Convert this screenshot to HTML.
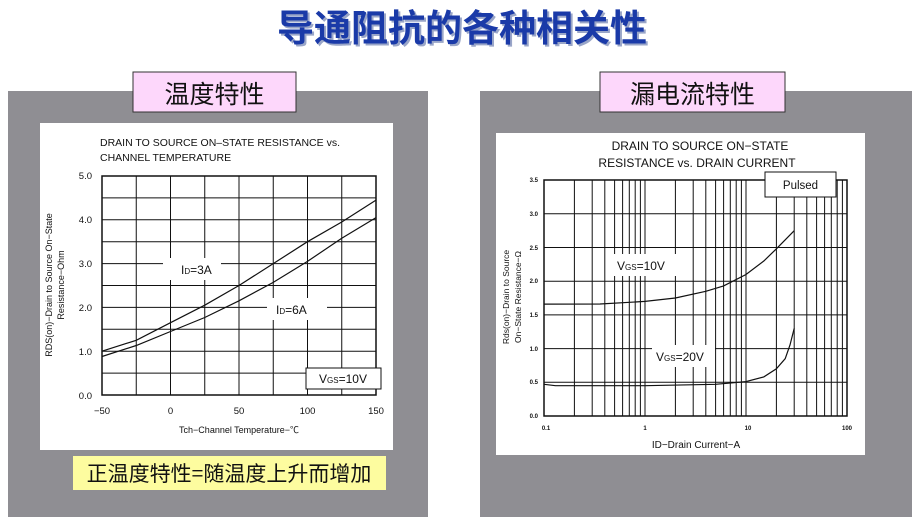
<!DOCTYPE html>
<html><head><meta charset="utf-8"><style>
html,body{margin:0;padding:0;background:#fff;}
svg{display:block}
text{font-family:"Liberation Sans","Noto Sans CJK SC",sans-serif;}
.cjk{font-family:"Noto Sans CJK SC","WenQuanYi Zen Hei",sans-serif;}
</style></head><body>
<svg width="924" height="529" viewBox="0 0 924 529" xmlns="http://www.w3.org/2000/svg">
<rect width="924" height="529" fill="#fff"/>
<text x="464" y="43" text-anchor="middle" class="cjk" font-size="37" font-weight="bold" fill="#9aa6c8">导通阻抗的各种相关性</text>
<text x="462" y="41" text-anchor="middle" class="cjk" font-size="37" font-weight="bold" fill="#1a3aa8">导通阻抗的各种相关性</text>
<rect x="8" y="91" width="420" height="426" fill="#8f8e93"/>
<rect x="480" y="91" width="432" height="426" fill="#8f8e93"/>
<rect x="133" y="72" width="163" height="40" fill="#fdd7fb" stroke="#333" stroke-width="1"/>
<text x="214.5" y="103" text-anchor="middle" class="cjk" font-size="25" fill="#111">温度特性</text>
<rect x="600" y="72" width="185" height="40" fill="#fdd7fb" stroke="#333" stroke-width="1"/>
<text x="692.5" y="103" text-anchor="middle" class="cjk" font-size="25" fill="#111">漏电流特性</text>
<rect x="40" y="123" width="353" height="327" fill="#fff"/>
<rect x="496" y="133" width="369" height="322" fill="#fff"/>
<rect x="73" y="456" width="313" height="34" fill="#fdfc9f"/>
<text x="229" y="481" text-anchor="middle" class="cjk" font-size="21" fill="#111">正温度特性=随温度上升而增加</text>

<text x="100" y="146" font-size="10.5" fill="#111">DRAIN TO SOURCE ON–STATE RESISTANCE vs.</text>
<text x="100" y="161" font-size="10.5" fill="#111">CHANNEL TEMPERATURE</text>
<g stroke="#111" stroke-width="1" fill="none">
<path d="M136.25 176V395M170.5 176V395M204.75 176V395M239 176V395M273.25 176V395M307.5 176V395M341.75 176V395M102 373.1H376M102 351.2H376M102 329.3H376M102 307.4H376M102 285.5H376M102 263.6H376M102 241.7H376M102 219.8H376M102 197.9H376"/>
<rect x="102" y="176" width="274" height="219" stroke-width="1.5"/>
</g>
<rect x="163" y="258" width="58" height="22" fill="#fff"/>
<rect x="267" y="298" width="60" height="22" fill="#fff"/>
<g stroke="#111" stroke-width="1.2" fill="none">
<polyline points="102,351.2 136.25,340.3 170.5,322.7 204.75,305.2 239,285.5 273.25,263.6 307.5,241.7 341.75,222 376,200.1"/>
<polyline points="102,356.5 136.25,345.5 170.5,331.5 204.75,317.5 239,300.8 273.25,282.4 307.5,261.4 341.75,238.2 376,217.6"/>
</g>
<text x="181" y="274" font-size="12" fill="#111">I<tspan font-size="8">D</tspan>=3A</text>
<text x="276" y="314" font-size="12" fill="#111">I<tspan font-size="8">D</tspan>=6A</text>
<rect x="306" y="368" width="75" height="21" fill="#fff" stroke="#111" stroke-width="1"/>
<text x="343" y="383" text-anchor="middle" font-size="12" fill="#111">V<tspan font-size="8">GS</tspan>=10V</text>
<g font-size="9.5" fill="#111" text-anchor="end">
<text x="92" y="179">5.0</text><text x="92" y="223">4.0</text><text x="92" y="267">3.0</text><text x="92" y="311">2.0</text><text x="92" y="355">1.0</text><text x="92" y="399">0.0</text>
</g>
<g font-size="9.5" fill="#111" text-anchor="middle">
<text x="102" y="414">−50</text><text x="170.5" y="414">0</text><text x="239" y="414">50</text><text x="307.5" y="414">100</text><text x="376" y="414">150</text>
</g>
<text x="239" y="433" text-anchor="middle" font-size="9" fill="#111">Tch−Channel Temperature−℃</text>
<text transform="translate(52,285) rotate(-90)" text-anchor="middle" font-size="9" fill="#111">RDS(on)−Drain to Source On−State</text>
<text transform="translate(64,285) rotate(-90)" text-anchor="middle" font-size="9" fill="#111">Resistance−Ohm</text>

<text x="700" y="150" text-anchor="middle" font-size="12" fill="#111">DRAIN TO SOURCE ON−STATE</text>
<text x="697" y="167" text-anchor="middle" font-size="12" fill="#111">RESISTANCE vs. DRAIN CURRENT</text>
<g stroke="#111" stroke-width="1" fill="none">
<path d="M574.4 180V416M592.2 180V416M604.8 180V416M614.6 180V416M622.6 180V416M629.3 180V416M635.2 180V416M640.4 180V416M645 180V416
M675.4 180V416M693.2 180V416M705.8 180V416M715.6 180V416M723.6 180V416M730.3 180V416M736.2 180V416M741.4 180V416M746 180V416
M776.4 180V416M794.2 180V416M806.8 180V416M816.6 180V416M824.6 180V416M831.3 180V416M837.2 180V416M842.4 180V416
M544 382.3H847M544 348.6H847M544 314.9H847M544 281.2H847M544 247.5H847M544 213.8H847"/>
<rect x="544" y="180" width="303" height="236" stroke-width="1.5"/>
</g>
<rect x="613" y="254" width="66" height="22" fill="#fff"/>
<rect x="652" y="345" width="63" height="22" fill="#fff"/>
<g stroke="#111" stroke-width="1.2" fill="none">
<polyline points="544,304.1 600,304 645,301.4 675.4,298 705.8,291.3 723.6,285.9 746,274.5 763.8,261 776.4,248.8 794.2,230.7"/>
<polyline points="544,384.3 555.5,385.7 645,385.7 715.6,384.3 746,381.6 763.8,376.9 776.4,368.8 785.2,358.7 790,345 794.2,328.4"/>
</g>
<text x="617" y="270" font-size="12" fill="#111">V<tspan font-size="8">GS</tspan>=10V</text>
<text x="656" y="361" font-size="12" fill="#111">V<tspan font-size="8">GS</tspan>=20V</text>
<rect x="765" y="172" width="71" height="25" fill="#fff" stroke="#111" stroke-width="1"/>
<text x="800.5" y="189" text-anchor="middle" font-size="11.5" fill="#111">Pulsed</text>
<g font-size="6" fill="#111" text-anchor="end" font-weight="bold">
<text x="538" y="182">3.5</text><text x="538" y="216">3.0</text><text x="538" y="250">2.5</text><text x="538" y="283">2.0</text><text x="538" y="317">1.5</text><text x="538" y="351">1.0</text><text x="538" y="384">0.5</text><text x="538" y="418">0.0</text>
</g>
<g font-size="6" fill="#111" text-anchor="middle" font-weight="bold">
<text x="546" y="430">0.1</text><text x="645" y="430">1</text><text x="748" y="430">10</text><text x="847" y="430">100</text>
</g>
<text x="696" y="448" text-anchor="middle" font-size="10" fill="#111">ID−Drain Current−A</text>
<text transform="translate(509,297) rotate(-90)" text-anchor="middle" font-size="8.5" fill="#111">Rds(on)−Drain to Source</text>
<text transform="translate(521,297) rotate(-90)" text-anchor="middle" font-size="8.5" fill="#111">On−State Resistance−Ω</text>
</svg>
</body></html>
